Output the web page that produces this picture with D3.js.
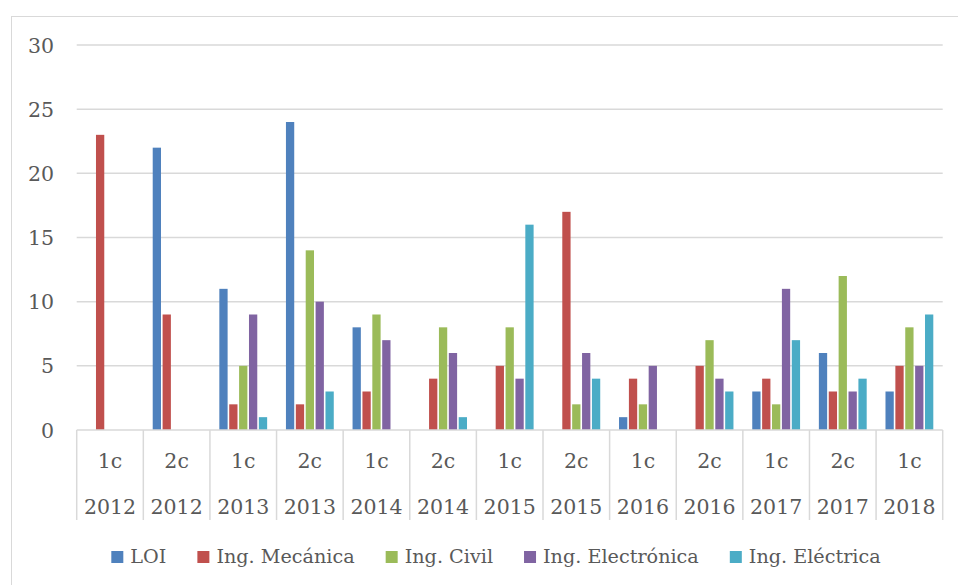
<!DOCTYPE html>
<html>
<head>
<meta charset="utf-8">
<script src="https://cdn.jsdelivr.net/npm/d3@7"></script>
<style>
  html, body { margin: 0; padding: 0; background: #fff; }
  svg { display: block; }
  text { font-family: "DejaVu Serif", serif; fill: #595959; }
</style>
</head>
<body>
<svg id="chart" width="958" height="585"></svg>
<script>
// Semesters (cuatrimestre + year) shown on the two-level category axis
const terms = ["1c", "2c", "1c", "2c", "1c", "2c", "1c", "2c", "1c", "2c", "1c", "2c", "1c"];
const years = ["2012", "2012", "2013", "2013", "2014", "2014", "2015", "2015", "2016", "2016", "2017", "2017", "2018"];

// Series
const seriesNames = ["LOI", "Ing. Mecánica", "Ing. Civil", "Ing. Electrónica", "Ing. Eléctrica"];
const loi         = [0, 22, 11, 24, 8, 0, 0, 0, 1, 0, 3, 6, 3];
const mecanica    = [23, 9, 2, 2, 3, 4, 5, 17, 4, 5, 4, 3, 5];
const civil       = [0, 0, 5, 14, 9, 8, 8, 2, 2, 7, 2, 12, 8];
const electronica = [0, 0, 9, 10, 7, 6, 4, 6, 5, 4, 11, 3, 5];
const electrica   = [0, 0, 1, 3, 0, 1, 16, 4, 0, 3, 7, 4, 9];
const seriesColors = ["#4f81bd", "#c0504d", "#9bbb59", "#8064a2", "#4bacc6"];

const yTicks = [0, 5, 10, 15, 20, 25, 30];

const values = [loi, mecanica, civil, electronica, electrica];
const categories = terms.map((t, i) => i);

const svg = d3.select("#chart");

// Outer chart frame
svg.append("rect")
  .attr("x", 11.5).attr("y", 16.5)
  .attr("width", 960).attr("height", 600)
  .attr("fill", "#fff").attr("stroke", "#d9d9d9").attr("stroke-width", 1);

const plotLeft = 76.7, plotRight = 942.7, plotTop = 45, plotBottom = 430;
const axisFont = 20.5;

const x0 = d3.scaleBand().domain(categories).range([plotLeft, plotRight]).paddingInner(0).paddingOuter(0);
const x1 = d3.scaleBand().domain(d3.range(seriesNames.length))
  .range([0, x0.bandwidth()]).paddingInner(0).paddingOuter(0.87);
const y = d3.scaleLinear().domain([0, 30]).range([plotBottom, plotTop]);

// Horizontal gridlines
svg.append("g").selectAll("line")
  .data(yTicks.filter(d => d > 0))
  .join("line")
  .attr("x1", plotLeft).attr("x2", plotRight)
  .attr("y1", d => y(d)).attr("y2", d => y(d))
  .attr("stroke", "#d9d9d9").attr("stroke-width", 1.5);

// Y axis labels
svg.append("g").selectAll("text")
  .data(yTicks)
  .join("text")
  .attr("x", 54).attr("y", d => y(d) + 7.5)
  .attr("text-anchor", "end")
  .attr("font-size", axisFont)
  .text(d => d);

// Bars
const groups = svg.append("g").selectAll("g")
  .data(categories)
  .join("g")
  .attr("transform", c => `translate(${x0(c)},0)`);

groups.selectAll("rect")
  .data(c => values.map((v, s) => ({ s, v: v[c] })))
  .join("rect")
  .attr("x", d => x1(d.s) + 0.8)
  .attr("width", x1.bandwidth() - 1.6)
  .attr("y", d => y(d.v))
  .attr("height", d => y(0) - y(d.v))
  .attr("fill", d => seriesColors[d.s]);

// Category axis: baseline, separators and two rows of labels
const axisG = svg.append("g");
axisG.append("line")
  .attr("x1", plotLeft).attr("x2", plotRight)
  .attr("y1", plotBottom).attr("y2", plotBottom)
  .attr("stroke", "#d9d9d9").attr("stroke-width", 1.5);

const bounds = categories.map(c => x0(c)).concat([plotRight]);
axisG.selectAll("line.sep")
  .data(bounds)
  .join("line")
  .attr("class", "sep")
  .attr("x1", d => d).attr("x2", d => d)
  .attr("y1", plotBottom).attr("y2", 520)
  .attr("stroke", "#d9d9d9").attr("stroke-width", 1.5);

axisG.selectAll("text.term")
  .data(categories)
  .join("text")
  .attr("class", "term")
  .attr("x", c => x0(c) + x0.bandwidth() / 2)
  .attr("y", 468)
  .attr("text-anchor", "middle")
  .attr("font-size", axisFont)
  .text(c => terms[c]);

axisG.selectAll("text.year")
  .data(categories)
  .join("text")
  .attr("class", "year")
  .attr("x", c => x0(c) + x0.bandwidth() / 2)
  .attr("y", 514)
  .attr("text-anchor", "middle")
  .attr("font-size", axisFont)
  .text(c => years[c]);

// Legend, laid out from measured text widths and centred
const legend = svg.append("g");
const items = legend.selectAll("g")
  .data(seriesNames)
  .join("g");
items.append("rect")
  .attr("width", 12).attr("height", 12)
  .attr("y", 551)
  .attr("fill", (d, i) => seriesColors[i]);
items.append("text")
  .attr("x", 19).attr("y", 563)
  .attr("font-size", 19.2)
  .text(d => d);

let cursor = 0;
const offsets = [];
items.each(function() {
  offsets.push(cursor);
  const w = d3.select(this).select("text").node().getComputedTextLength();
  cursor += 19 + w + 31;
});
const total = cursor - 31;
const start = 496 - total / 2;
items.attr("transform", (d, i) => `translate(${start + offsets[i]},0)`);
</script>
</body>
</html>
